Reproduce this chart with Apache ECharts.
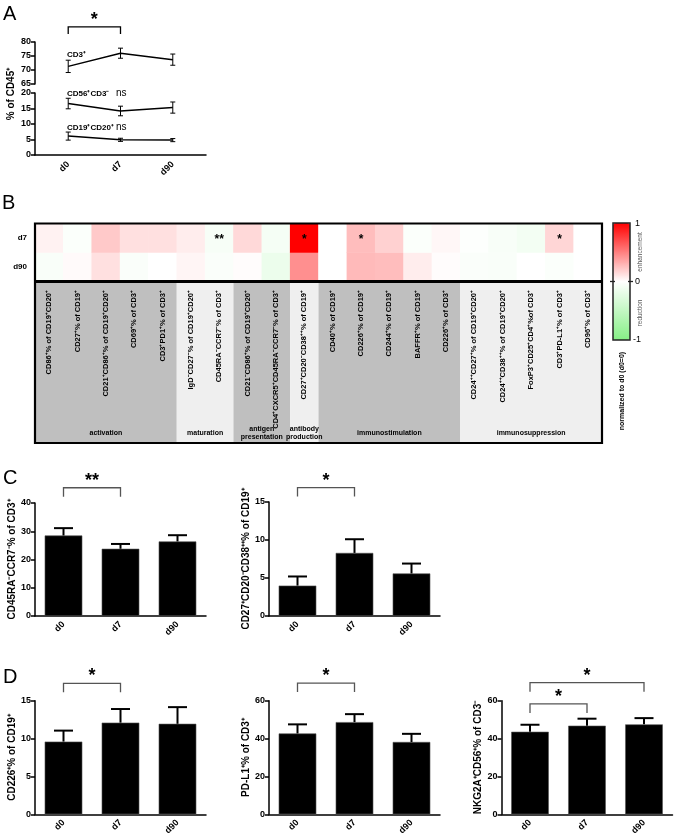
<!DOCTYPE html>
<html><head><meta charset="utf-8">
<script src="https://cdn.jsdelivr.net/npm/echarts@6/dist/echarts.min.js"></script>
<style>html,body{margin:0;padding:0;background:#fff}#c{width:676px;height:838px}</style>
</head><body><div id="c"></div>
<script>
// ---------- DATA ----------
const days = ['d0', 'd7', 'd90'];
// Panel A (% of CD45+)
const cd3Mean = [71.3, 76.0, 73.7], cd3Err = [2.2, 1.8, 2.0];
const cd56Mean = [16.6, 14.2, 15.3], cd56Err = [1.7, 1.55, 1.8];
const cd19Mean = [6.1, 4.9, 4.8], cd19Err = [1.3, 0.5, 0.5];
const sigA = [{from: 0, to: 1, y: 85.4, label: '*'}];
const ticksATop = [65, 80, 5];
const ticksABottom = [0, 20, 5];
// Panel B (heatmap, normalized to d0)
const markers = [
  'CD86⁺% of CD19⁺CD20⁺', 'CD27⁺% of CD19⁺', 'CD21⁺CD86⁺% of CD19⁺CD20⁺', 'CD69⁺% of CD3⁺', 'CD3⁺PD1⁺% of CD3⁺',
  'IgD⁻CD27⁻% of CD19⁺CD20⁺', 'CD45RA⁻CCR7⁻% of CD3⁺',
  'CD21⁻CD86⁺% of CD19⁺CD20⁺', 'CD4⁺CXCR5⁺CD45RA⁻CCR7⁻% of CD3⁺',
  'CD27⁺CD20⁻CD38⁺⁺% of CD19⁺',
  'CD40⁺% of CD19⁺', 'CD226⁺% of CD19⁺', 'CD244⁺% of CD19⁺', 'BAFFR⁺% of CD19⁺', 'CD226⁺% of CD3⁺',
  'CD24⁺⁺CD27⁺% of CD19⁺CD20⁺', 'CD24⁺⁺CD38⁺⁺% of CD19⁺CD20⁺', 'FoxP3⁺CD25⁺CD4⁺%of CD3⁺', 'CD3⁺PD-L1⁺% of CD3⁺', 'CD96⁺% of CD3⁺'
];
const groupNames = ['activation', 'maturation', 'antigen\npresentation', 'antibody\nproduction', 'immunostimulation', 'immunosuppression'];
const groupStart = [0, 5, 7, 9, 10, 15];
const groupEnd = [4, 6, 8, 9, 14, 19];
const heatRows = ['d90', 'd7'];
const d7Change  = [0.05, -0.03, 0.21, 0.12, 0.12, 0.07, -0.07, 0.15, -0.08, 1.0, 0.0, 0.26, 0.18, -0.03, 0.03, -0.02, -0.06, -0.1, 0.16, 0.0];
const d90Change = [-0.05, 0.02, 0.12, -0.04, 0.0, 0.04, -0.04, 0.01, -0.16, 0.44, 0.0, 0.27, 0.26, 0.07, 0.01, -0.04, -0.05, 0.0, -0.03, 0.0];
const d7Sig = ['', '', '', '', '', '', '**', '', '', '*', '', '*', '', '', '', '', '', '', '*', ''];
const colorbarTicks = ['1', '0', '-1'];
// Panel C
const cTcellMean = [28.5, 23.8, 26.4], cTcellErr = [2.6, 1.7, 2.2];
const cPlasmaMean = [4.0, 8.3, 5.6], cPlasmaErr = [1.2, 1.8, 1.3];
const sigC1 = [{from: 0, to: 1, y: 45.4, label: '**'}];
const sigC2 = [{from: 0, to: 1, y: 16.9, label: '*'}];
// Panel D
const dCd226Mean = [9.6, 12.1, 11.95], dCd226Err = [1.45, 1.8, 2.2];
const dPdl1Mean = [42.7, 48.7, 38.2], dPdl1Err = [4.8, 4.2, 4.3];
const dNkg2aMean = [43.6, 46.8, 47.5], dNkg2aErr = [3.7, 3.7, 3.3];
const sigD1 = [{from: 0, to: 1, y: 17.3, label: '*'}];
const sigD2 = [{from: 0, to: 1, y: 69.3, label: '*'}];
const sigD3 = [{from: 0, to: 2, y: 69.5, label: '*'}, {from: 0, to: 1, y: 58.3, label: '*'}];

// ---------- LAYOUT / STYLE ----------
const FONT = 'Liberation Sans';
const chart = echarts.init(document.getElementById('c'), null, {renderer: 'canvas'});
const grids = [], xAxes = [], yAxes = [], series = [], graphics = [];

function txt(x, y, text, font, extra) {
  const e = Object.assign({align: 'left', vAlign: 'middle', rot: 0, fill: '#000'}, extra || {});
  return {type: 'text', x: x, y: y, rotation: e.rot, z: 100,
    style: {text: text, font: font, fill: e.fill, align: e.align, textAlign: e.align,
      verticalAlign: e.vAlign, textVerticalAlign: e.vAlign, lineHeight: e.lh}};
}
const axisLineStyle = {color: '#000', width: 1.5};
const tickLabel = {color: '#000', fontFamily: FONT, fontWeight: 'bold', fontSize: 9};

function errSeries(xi, yi, mean, err, both, cap, lw) {
  return {type: 'custom', xAxisIndex: xi, yAxisIndex: yi, silent: true, z: 5,
    data: mean.map((m, i) => [i, m, err[i]]), encode: {x: 0, y: 1},
    renderItem: (params, api) => {
      const i = api.value(0), m = api.value(1), e = api.value(2);
      const top = api.coord([i, m + e]);
      const bot = api.coord([i, both ? m - e : m]);
      const x = top[0];
      const st = {stroke: '#000', lineWidth: lw};
      const ch = [
        {type: 'line', shape: {x1: x, y1: bot[1], x2: x, y2: top[1]}, style: st},
        {type: 'line', shape: {x1: x - cap / 2, y1: top[1], x2: x + cap / 2, y2: top[1]}, style: st}
      ];
      if (both) ch.push({type: 'line', shape: {x1: x - cap / 2, y1: bot[1], x2: x + cap / 2, y2: bot[1]}, style: st});
      return {type: 'group', children: ch};
    }};
}
function sigSeries(xi, yi, sig, color, leg) {
  return {type: 'custom', xAxisIndex: xi, yAxisIndex: yi, silent: true, z: 6,
    data: sig.map(s => [s.from, s.to, s.y]), encode: {x: 0, y: 2},
    renderItem: (params, api) => {
      const s = sig[params.dataIndex];
      const p1 = api.coord([s.from, s.y]), p2 = api.coord([s.to, s.y]);
      const y = p1[1];
      return {type: 'group', children: [
        {type: 'polyline', shape: {points: [[p1[0], y + leg], [p1[0], y], [p2[0], y], [p2[0], y + leg]]},
          style: {stroke: color, lineWidth: 1.3, fill: null}},
        {type: 'text', x: (p1[0] + p2[0]) / 2, y: y - 7,
          style: {text: s.label, font: 'bold 18px ' + FONT, fill: '#000', align: 'center', verticalAlign: 'middle'}}
      ]};
    }};
}

// ---------- Panel A ----------
grids.push({left: 35, top: 42, width: 171, height: 42});
grids.push({left: 35, top: 93, width: 171, height: 62});
xAxes.push({gridIndex: 0, type: 'value', min: -0.635, max: 2.635, show: false});
xAxes.push({gridIndex: 1, type: 'value', min: -0.635, max: 2.635,
  axisLine: {show: true, onZero: false, lineStyle: axisLineStyle}, axisTick: {show: false}, splitLine: {show: false},
  axisLabel: Object.assign({customValues: [0, 1, 2], formatter: v => days[v], rotate: 45, margin: 8}, tickLabel)});
yAxes.push({gridIndex: 0, type: 'value', min: ticksATop[0], max: ticksATop[1], interval: ticksATop[2],
  axisLine: {show: true, onZero: false, lineStyle: axisLineStyle}, axisTick: {show: true, length: 4, lineStyle: axisLineStyle},
  splitLine: {show: false}, axisLabel: Object.assign({margin: 4}, tickLabel)});
yAxes.push({gridIndex: 1, type: 'value', min: ticksABottom[0], max: ticksABottom[1], interval: ticksABottom[2],
  axisLine: {show: true, onZero: false, lineStyle: axisLineStyle}, axisTick: {show: true, length: 4, lineStyle: axisLineStyle},
  splitLine: {show: false}, axisLabel: Object.assign({margin: 4}, tickLabel)});
[[cd3Mean, cd3Err, 0], [cd56Mean, cd56Err, 1], [cd19Mean, cd19Err, 1]].forEach(([m, e, g]) => {
  series.push({type: 'line', xAxisIndex: g, yAxisIndex: g, data: m.map((v, i) => [i, v]), symbol: 'none',
    lineStyle: {color: '#000', width: 1.5}, silent: true, z: 4});
  series.push(errSeries(g, g, m, e, true, 5, 1));
});
series.push(sigSeries(0, 0, sigA, '#000', 7));
graphics.push(txt(11, 94, '% of CD45⁺', 'bold 10px ' + FONT, {align: 'center', rot: Math.PI / 2}));
graphics.push(txt(67, 55, 'CD3⁺', 'bold 8px ' + FONT));
graphics.push(txt(67, 94, 'CD56⁺CD3⁻', 'bold 8px ' + FONT));
graphics.push(txt(116, 93, 'ns', '10px ' + FONT));
graphics.push(txt(67, 128, 'CD19⁺CD20⁺', 'bold 8px ' + FONT));
graphics.push(txt(116, 127, 'ns', '10px ' + FONT));

// ---------- Panel B ----------
grids.push({left: 35, top: 224, width: 567, height: 57});
xAxes.push({gridIndex: 2, type: 'category', data: markers, show: false});
yAxes.push({gridIndex: 2, type: 'category', data: heatRows, axisLine: {show: false}, axisTick: {show: false},
  axisLabel: {color: '#000', fontFamily: FONT, fontWeight: 'bold', fontSize: 8, margin: 8}});
const heatData = [];
markers.forEach((mk, i) => {
  heatData.push([i, 0, d90Change[i]]);
  heatData.push([i, 1, d7Change[i]]);
});
const heatIndex = series.length;
series.push({type: 'heatmap', xAxisIndex: 2, yAxisIndex: 2, data: heatData, silent: true,
  itemStyle: {borderWidth: 0},
  label: {show: true, color: '#000', fontFamily: FONT, fontWeight: 'bold', fontSize: 12, offset: [0, 1],
    formatter: p => p.value[1] === 1 ? d7Sig[p.value[0]] : ''}});
// label band
grids.push({left: 35, top: 282, width: 567, height: 161});
xAxes.push({gridIndex: 3, type: 'category', data: markers, show: false});
yAxes.push({gridIndex: 3, type: 'value', min: 0, max: 1, show: false});
series.push({type: 'custom', xAxisIndex: 3, yAxisIndex: 3, silent: true, z: 1,
  data: groupNames.map((g, i) => [groupStart[i], groupEnd[i]]), encode: {x: 0},
  renderItem: (params, api) => {
    const i = params.dataIndex;
    const w = api.size([1, 0])[0];
    const x1 = api.coord([groupStart[i], 0])[0] - w / 2;
    const x2 = api.coord([groupEnd[i], 0])[0] + w / 2;
    const cs = params.coordSys;
    return {type: 'group', children: [
      {type: 'rect', shape: {x: x1, y: cs.y, width: x2 - x1, height: cs.height},
        style: {fill: i % 2 === 0 ? '#bfbfbf' : '#efefef'}},
      {type: 'text', x: (x1 + x2) / 2, y: cs.y + cs.height - 10, z2: 10,
        style: {text: groupNames[i], font: 'bold 7px ' + FONT, fill: '#000', align: 'center', verticalAlign: 'middle', lineHeight: 8}}
    ]};
  }});
series.push({type: 'custom', xAxisIndex: 3, yAxisIndex: 3, silent: true, z: 3,
  data: markers.map((m, i) => [i]), encode: {x: 0},
  renderItem: (params, api) => {
    const i = params.dataIndex;
    const x = api.coord([i, 0])[0];
    return {type: 'text', x: x, y: params.coordSys.y + 8, rotation: Math.PI / 2,
      style: {text: markers[i], font: 'bold 7.5px ' + FONT, fill: '#000', align: 'right', verticalAlign: 'middle'}};
  }});
// frame
graphics.push({type: 'rect', z: 90, shape: {x: 35, y: 223.5, width: 567, height: 219.5}, style: {fill: null, stroke: '#000', lineWidth: 2.2}});
graphics.push({type: 'line', z: 90, shape: {x1: 35, y1: 281.5, x2: 602, y2: 281.5}, style: {stroke: '#000', lineWidth: 3}});
// colorbar
graphics.push({type: 'rect', z: 90, shape: {x: 613, y: 223, width: 17, height: 117}, style: {fill: null, stroke: '#222', lineWidth: 1.5}});
graphics.push({type: 'line', z: 90, shape: {x1: 610, y1: 281.5, x2: 615, y2: 281.5}, style: {stroke: '#222', lineWidth: 1.3}});
graphics.push({type: 'line', z: 90, shape: {x1: 628, y1: 281.5, x2: 633, y2: 281.5}, style: {stroke: '#222', lineWidth: 1.3}});
graphics.push(txt(635, 224, colorbarTicks[0], '9px ' + FONT));
graphics.push(txt(635, 282, colorbarTicks[1], '9px ' + FONT));
graphics.push(txt(633, 340, colorbarTicks[2], '9px ' + FONT));
graphics.push(txt(640, 252, 'enhancement', '6.5px ' + FONT, {align: 'center', rot: Math.PI / 2, fill: '#555'}));
graphics.push(txt(640, 313, 'reduction', '6.5px ' + FONT, {align: 'center', rot: Math.PI / 2, fill: '#555'}));
graphics.push(txt(622, 391, 'normalized to d0 (d0=0)', 'bold 7px ' + FONT, {align: 'center', rot: Math.PI / 2}));

// ---------- Panels C & D ----------
const panels = [
  {left: 35, top: 503, h: 113, max: 40, step: 10, mean: cTcellMean, err: cTcellErr, sig: sigC1, title: 'CD45RA⁻CCR7⁻% of CD3⁺'},
  {left: 269, top: 502, h: 114, max: 15, step: 5, mean: cPlasmaMean, err: cPlasmaErr, sig: sigC2, title: 'CD27⁺CD20⁻CD38⁺⁺% of CD19⁺'},
  {left: 35, top: 700.7, h: 113.6, max: 15, step: 5, mean: dCd226Mean, err: dCd226Err, sig: sigD1, title: 'CD226⁺% of CD19⁺'},
  {left: 269, top: 700.7, h: 113.6, max: 60, step: 20, mean: dPdl1Mean, err: dPdl1Err, sig: sigD2, title: 'PD-L1⁺% of CD3⁺'},
  {left: 501.5, top: 700.7, h: 113.6, max: 60, step: 20, mean: dNkg2aMean, err: dNkg2aErr, sig: sigD3, title: 'NKG2A⁺CD56⁺% of CD3⁻'}
];
panels.forEach(p => {
  const gi = grids.length;
  grids.push({left: p.left, top: p.top, width: 171, height: p.h});
  xAxes.push({gridIndex: gi, type: 'category', data: days,
    axisLine: {show: true, lineStyle: axisLineStyle}, axisTick: {show: false},
    axisLabel: Object.assign({rotate: 45, margin: 7}, tickLabel)});
  yAxes.push({gridIndex: gi, type: 'value', min: 0, max: p.max, interval: p.step,
    name: p.title, nameLocation: 'middle', nameGap: 18,
    nameTextStyle: {color: '#000', fontFamily: FONT, fontWeight: 'bold', fontSize: 10},
    axisLine: {show: true, lineStyle: axisLineStyle}, axisTick: {show: true, length: 4, lineStyle: axisLineStyle},
    splitLine: {show: false}, axisLabel: Object.assign({margin: 4}, tickLabel)});
  series.push({type: 'bar', xAxisIndex: gi, yAxisIndex: gi, data: p.mean, barWidth: '66%', silent: true, z: 3,
    itemStyle: {color: '#000', borderColor: '#555', borderWidth: 0.6}});
  series.push(errSeries(gi, gi, p.mean, p.err, false, 19, 2));
  series.push(sigSeries(gi, gi, p.sig, '#555', 9));
});

// panel letters
graphics.push(txt(3, 14, 'A', '20px ' + FONT));
graphics.push(txt(2, 203, 'B', '20px ' + FONT));
graphics.push(txt(3, 478, 'C', '20px ' + FONT));
graphics.push(txt(3, 677, 'D', '20px ' + FONT));

chart.setOption({
  animation: false,
  backgroundColor: '#fff',
  grid: grids, xAxis: xAxes, yAxis: yAxes, series: series,
  visualMap: {type: 'continuous', min: -1, max: 1, seriesIndex: heatIndex, orient: 'vertical',
    left: 613, top: 223, itemWidth: 17, itemHeight: 117, padding: 0, calculable: false,
    inRange: {color: ['#86f086', '#ffffff', '#ff0000']}},
  graphic: {elements: graphics}
});
</script></body></html>
